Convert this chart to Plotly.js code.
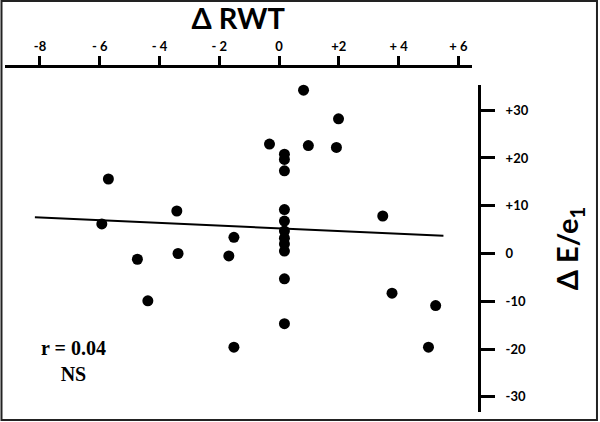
<!DOCTYPE html>
<html>
<head>
<meta charset="utf-8">
<script src="https://cdn.plot.ly/plotly-3.0.1.min.js"></script>
<style>html,body{margin:0;padding:0;background:#fff;}#chart{width:600px;height:422px;}</style>
</head>
<body>
<div id="chart"></div>
<script>
// Δ RWT (x) and Δ E/e1 (y) for each subject
const deltaRWT = [-5.71, -5.93, -3.42, -3.38, -4.74, -4.39, -1.51, -1.68, -1.51, -0.32,
  0.18, 0.18, 0.18, 0.18, 0.18, 0.18, 0.18, 0.18, 0.18, 0.18, 0.18,
  0.82, 1.99, 0.98, 1.92, 3.47, 3.78, 5.24, 5.00];
const deltaEe1 = [15.6, 6.2, 8.9, 0.0, -1.2, -9.9, 3.4, -0.5, -19.6, 22.9,
  20.8, 19.7, 17.3, 9.2, 6.8, 4.7, 3.2, 2.0, 0.5, -5.3, -14.7,
  34.2, 28.2, 22.6, 22.2, 7.85, -8.3, -10.9, -19.6];
// regression line end points
const fitX = [-8.17, 5.50];
const fitY = [7.58, 3.73];
// tick values and labels
const xTickVals = [-8, -6, -4, -2, 0, 2, 4, 6];
const xTickText = ["-8", "- 6", "- 4", "- 2", "0", "+2", "+ 4", "+ 6"];
const yTickVals = [30, 20, 10, 0, -10, -20, -30];
const yTickText = ["+30", "+20", "+10", "0", "-10", "-20", "-30"];
const statText = "r = 0.04<br>NS";

const data = [
  {x: deltaRWT, y: deltaEe1, type: 'scatter', mode: 'markers',
   marker: {color: '#000', size: 11}, cliponaxis: false, showlegend: false, hoverinfo: 'x+y'},
  {x: fitX, y: fitY, type: 'scatter', mode: 'lines',
   line: {color: '#000', width: 2}, cliponaxis: false, showlegend: false}
];

const sans = 'Lato, "Open Sans", sans-serif';
const layout = {
  width: 600, height: 422,
  margin: {l: 5, r: 121, t: 66, b: 10},
  paper_bgcolor: '#fff', plot_bgcolor: 'rgba(0,0,0,0)',
  showlegend: false,
  xaxis: {
    side: 'top', anchor: 'free', position: 1, domain: [0, 0.9842],
    range: [-9.17, 6.44], showgrid: false, zeroline: false,
    showline: true, linewidth: 3, linecolor: '#000',
    ticks: 'outside', ticklen: 9, tickwidth: 3, tickcolor: '#000',
    tickvals: xTickVals, ticktext: xTickText,
    tickfont: {family: sans, size: 13, color: '#000', weight: 'bold'},
    title: {text: 'Δ RWT', font: {family: sans, size: 29, color: '#000', weight: 'bold'}, standoff: 10},
    fixedrange: true
  },
  yaxis: {
    side: 'right', anchor: 'free', position: 1, domain: [0, 0.945],
    range: [-33.18, 35.27], showgrid: false, zeroline: false,
    showline: true, linewidth: 3, linecolor: '#000',
    ticks: 'outside', ticklen: 14, tickwidth: 3, tickcolor: '#000',
    tickvals: yTickVals, ticktext: yTickText,
    ticklabelstandoff: 8,
    tickfont: {family: sans, size: 13, color: '#000', weight: 'bold'},
    title: {text: 'Δ E/e<sub>1</sub>', font: {family: sans, size: 29, color: '#000', weight: 'bold'}, standoff: 30},
    fixedrange: true
  },
  annotations: [
    {x: -6.88, y: -22.5, xref: 'x', yref: 'y', text: statText, showarrow: false,
     font: {family: '"Liberation Serif", "Times New Roman", serif', size: 20, color: '#000', weight: 'bold'},
     align: 'center', xanchor: 'center', yanchor: 'middle'}
  ],
  shapes: [
    {type: 'rect', xref: 'paper', yref: 'paper', x0: -0.0074, x1: 1.2489, y0: -0.0231, y1: 1.1879,
     line: {color: '#222', width: 2}, fillcolor: 'rgba(0,0,0,0)', layer: 'above'}
  ]
};

Plotly.newPlot('chart', data, layout, {staticPlot: true, displayModeBar: false});
</script>
</body>
</html>
